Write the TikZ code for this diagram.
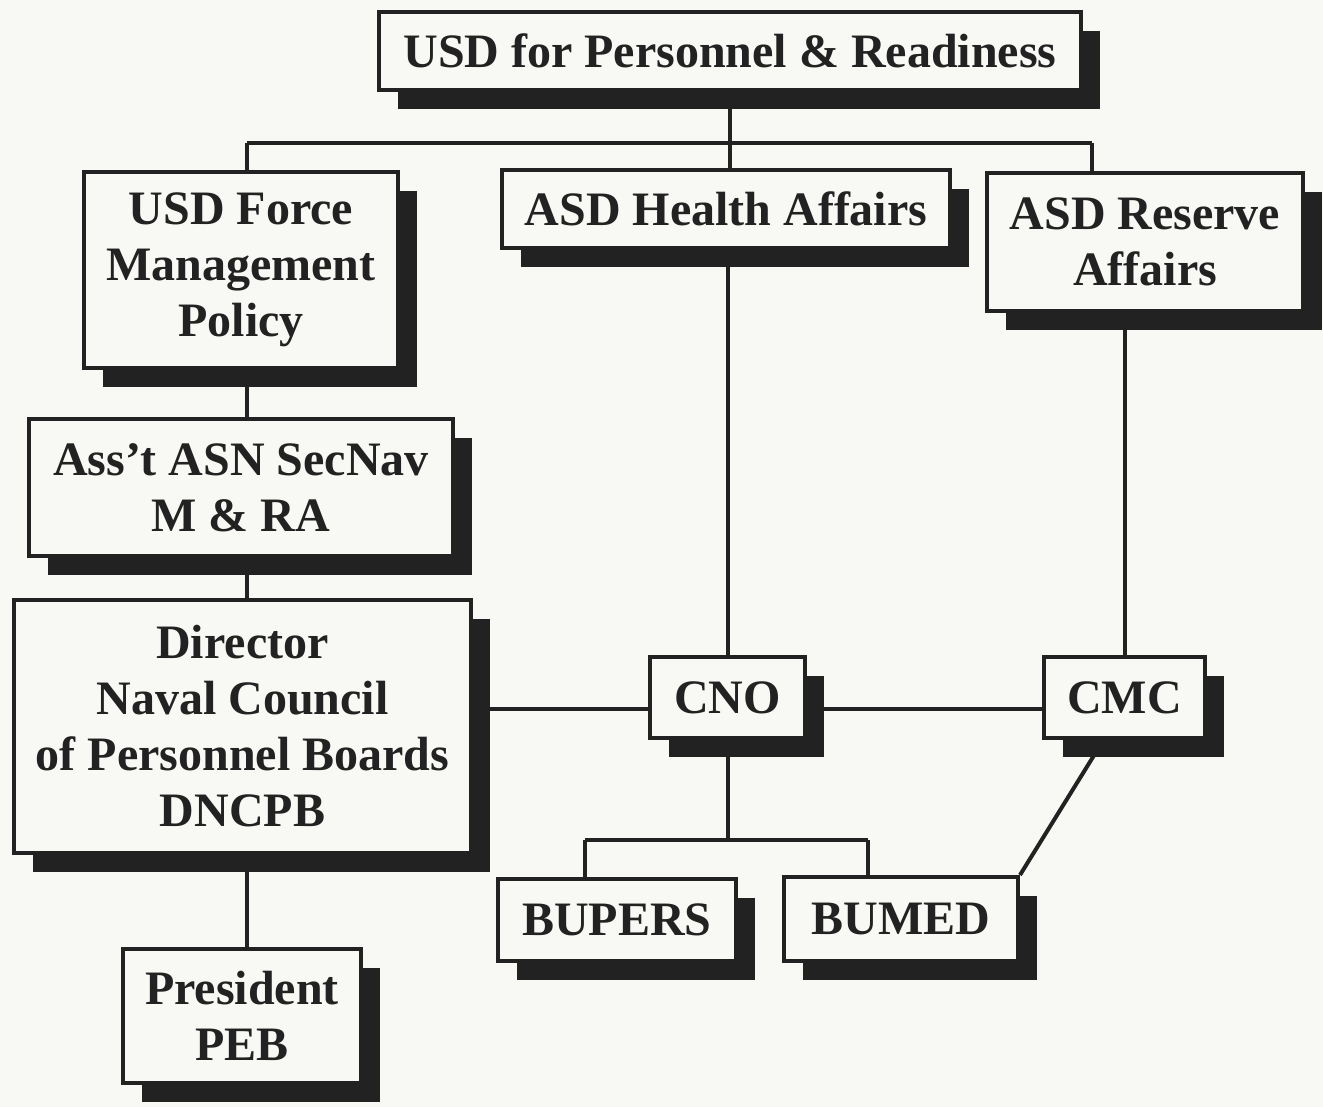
\documentclass[tikz,border=0pt]{standalone}
\usepackage{fontspec}
\setmainfont{Liberation Serif}
\usetikzlibrary{shadows,backgrounds,calc}
\definecolor{paper}{HTML}{F8F8F4}
\definecolor{ink}{HTML}{222222}
\tikzset{
  orgbox/.style={draw=ink, line width=4pt, fill=paper, inner sep=0pt,
    align=center, text=ink,
    font=\fontsize{48}{56}\selectfont\bfseries,
    drop shadow={shadow xshift=19pt, shadow yshift=-19pt, fill=ink, opacity=1}},
  link/.style={draw=ink, line width=4pt}
}
\begin{document}
\begin{tikzpicture}[x=1pt,y=-1pt]
\useasboundingbox (0,0) rectangle (1323,1107);
\node[orgbox, minimum width=702pt, minimum height=78pt] (top) at (730,51) {USD for Personnel \& Readiness};
\node[orgbox, minimum width=314pt, minimum height=196pt] (fmp) at (241,270) {USD Force\\Management\\Policy};
\node[orgbox, minimum width=448pt, minimum height=78pt] (health) at (726,209) {ASD Health Affairs};
\node[orgbox, minimum width=316pt, minimum height=138pt] (asr) at (1145,242) {ASD Reserve\\Affairs};
\node[orgbox, minimum width=424pt, minimum height=137pt] (ass) at (241,487.5) {Ass’t ASN SecNav\\M \& RA};
\node[orgbox, minimum width=457pt, minimum height=253pt] (dir) at (242.5,726.5) {Director\\Naval Council\\of Personnel Boards\\DNCPB};
\node[orgbox, minimum width=155pt, minimum height=81pt] (cno) at (727.5,697.5) {CNO};
\node[orgbox, minimum width=161pt, minimum height=81pt] (cmc) at (1124.5,697.5) {CMC};
\node[orgbox, minimum width=238pt, minimum height=82pt] (bupers) at (617,920) {BUPERS};
\node[orgbox, minimum width=234pt, minimum height=84pt] (bumed) at (901,919) {BUMED};
\node[orgbox, minimum width=238pt, minimum height=134pt] (pres) at (242,1016) {President\\PEB};
\coordinate (hL) at (247,143);
\coordinate (hR) at (1092,143);
\coordinate (ymid) at (0,709);
\coordinate (bL) at (585,840);
\coordinate (bR) at (868,840);
\begin{pgfonlayer}{background}
\fill[paper] (0,0) rectangle (1323,1107);
\draw[link] (top.south) -- (top.south |- health.north);
\draw[link] (hL) -- (hR);
\draw[link] (hL) -- (hL |- fmp.north);
\draw[link] (hR) -- (hR |- asr.north);
\draw[link] (hL |- fmp.south) -- (hL |- ass.north);
\draw[link] (hL |- ass.south) -- (hL |- dir.north);
\draw[link] (hL |- dir.south) -- (hL |- pres.north);
\draw[link] (cno.north |- health.south) -- (cno.north);
\draw[link] (cmc.north |- asr.south) -- (cmc.north);
\draw[link] (dir.east |- ymid) -- (cno.west |- ymid);
\draw[link] (cno.east |- ymid) -- (cmc.west |- ymid);
\draw[link] (cno.south) -- (cno.south |- bL);
\draw[link] (bL) -- (bR);
\draw[link] (bL) -- (bL |- bupers.north);
\draw[link] (bR) -- (bR |- bumed.north);
\draw[link] ($(cmc.south)+(-21,0)$) -- (bumed.north east);
\end{pgfonlayer}
\end{tikzpicture}
\end{document}
